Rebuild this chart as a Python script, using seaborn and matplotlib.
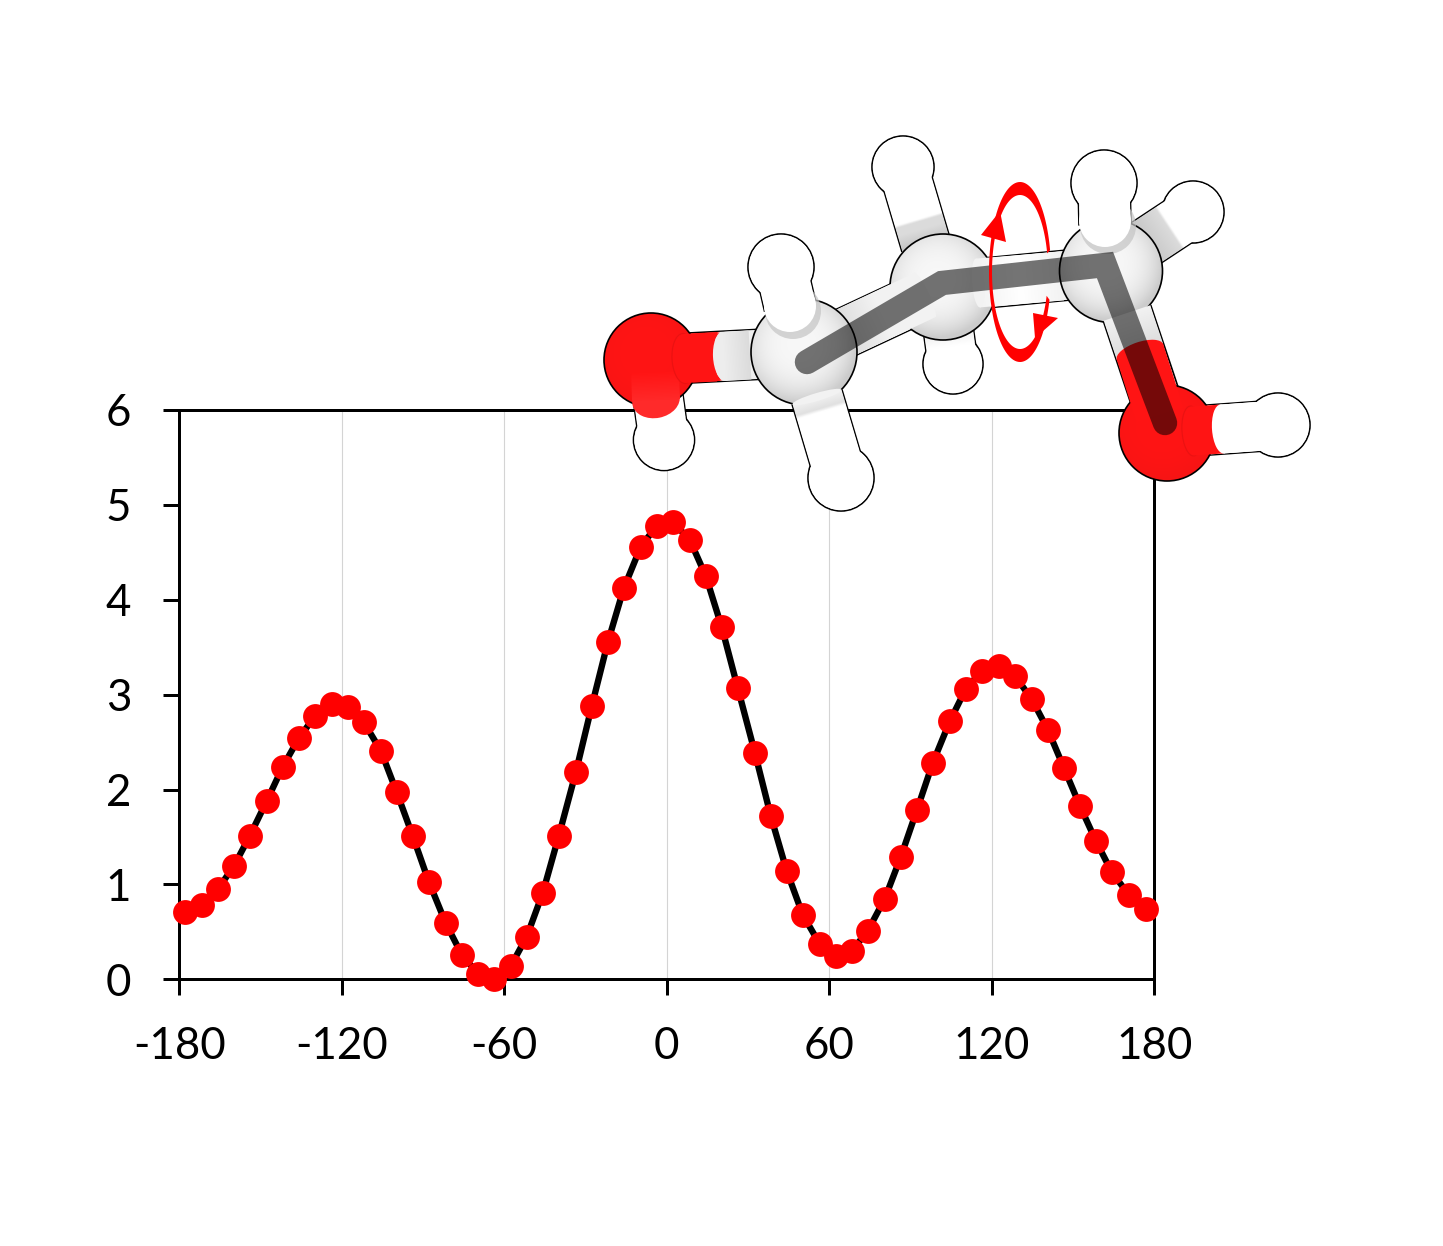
import numpy as np
import pandas as pd
import matplotlib
matplotlib.use("Agg")
import matplotlib.pyplot as plt
import seaborn as sns
from matplotlib.patches import Circle, Polygon, Ellipse

# ---- data ----
angle = [-178.0,-171.7,-165.8,-159.9,-154.0,-147.7,-141.8,-135.9,-130.0,-123.7,
         -117.8,-111.9,-105.6,-99.7,-93.8,-87.9,-81.6,-75.7,-69.8,-63.9,
         -57.6,-51.7,-45.8,-39.9,-33.6,-27.7,-21.8,-15.9,-9.6,-3.7,
         2.2,8.5,14.4,20.3,26.2,32.5,38.4,44.3,50.2,56.5,
         62.4,68.3,74.2,80.5,86.4,92.3,98.2,104.5,110.4,116.3,
         122.6,128.5,134.8,140.7,146.6,152.5,158.4,164.3,170.6,176.9]
energy = [0.71,0.78,0.95,1.19,1.51,1.88,2.24,2.54,2.77,2.90,
          2.87,2.71,2.41,1.97,1.51,1.03,0.59,0.26,0.06,0.00,
          0.14,0.45,0.91,1.51,2.18,2.88,3.55,4.12,4.56,4.78,
          4.82,4.63,4.25,3.71,3.07,2.39,1.72,1.14,0.68,0.37,
          0.25,0.30,0.51,0.85,1.29,1.78,2.28,2.72,3.06,3.25,
          3.30,3.20,2.95,2.63,2.23,1.83,1.46,1.13,0.89,0.74]
x_ticks = [-180,-120,-60,0,60,120,180]
y_ticks = [0,1,2,3,4,5,6]

W, H, DPI = 1443, 1246, 200
sns.set_theme(style="white")
plt.rcParams['font.family'] = ['Lato', 'DejaVu Sans']

fig = plt.figure(figsize=(W/DPI, H/DPI), dpi=DPI, facecolor="white")
ax = fig.add_axes([179.3/W, 1-979.3/H, (1154.3-179.3)/W, (979.3-410)/H])
df = pd.DataFrame({"angle": angle, "energy": energy})
sns.lineplot(data=df, x="angle", y="energy", color="black", lw=2.3, ax=ax, zorder=4, clip_on=False)
sns.scatterplot(data=df, x="angle", y="energy", color="#ff0000", s=80, linewidth=0, ax=ax, zorder=5, clip_on=False)
ax.set_xlim(-180, 180); ax.set_ylim(0, 6)
ax.set_xticks(x_ticks); ax.set_yticks(y_ticks)
ax.set_xticklabels([str(t) for t in x_ticks]); ax.set_yticklabels([str(t) for t in y_ticks])
ax.set_xlabel(""); ax.set_ylabel("")
ax.xaxis.grid(True, color="#d4d4d4", lw=0.4); ax.yaxis.grid(False)
ax.set_axisbelow(True)
ax.tick_params(axis="both", direction="out", length=5.6, width=1.08, color="black",
               labelsize=15.8, labelcolor="black", bottom=True, left=True)
ax.tick_params(axis="x", pad=11.2)
ax.tick_params(axis="y", pad=11.7)
for s in ax.spines.values():
    s.set_color("black"); s.set_linewidth(1.08); s.set_visible(True)

# ---- molecule illustration overlay, in pixel coordinates ----
ov = fig.add_axes([0, 0, 1, 1], facecolor="none", zorder=10)
ov.set_xlim(0, W); ov.set_ylim(H, 0); ov.axis("off")
LW = 0.6
z = [10]
def nz():
    z[0] += 1
    return z[0]

WH = (1, 1, 1); G1 = (.95, .95, .95); G2 = (.86, .86, .86); G3 = (.76, .76, .76)
RD = (1, .08, .08); RDH = "#ff1414"

def frame(a, b):
    a, b = np.array(a, float), np.array(b, float)
    d = (b - a) / np.hypot(*(b - a))
    return a, b, d, np.array([-d[1], d[0]])

def sides(a, b, w):
    a, b, d, n = frame(a, b)
    for s in (1, -1):
        p, q = a + s*n*w/2, b + s*n*w/2
        ov.plot([p[0], q[0]], [p[1], q[1]], color="black", lw=LW, zorder=nz(), solid_capstyle="butt")

def band(a, b, w, stops):
    a, b, d, n = frame(a, b)
    poly = Polygon([a+n*w/2, b+n*w/2, b-n*w/2, a-n*w/2], closed=True, fc="none", ec="none", zorder=nz())
    ov.add_patch(poly)
    xs = np.linspace(min(a[0], b[0])-w, max(a[0], b[0])+w, 200)
    ys = np.linspace(min(a[1], b[1])-w, max(a[1], b[1])+w, 200)
    X, Y = np.meshgrid(xs, ys)
    L = np.hypot(*(b-a))
    T = np.clip(((X-a[0])*(b-a)[0]+(Y-a[1])*(b-a)[1])/L**2, 0, 1)
    pos = [s[0] for s in stops]
    img = np.dstack([np.interp(T, pos, [s[1][i] for s in stops]) for i in range(3)])
    im = ov.imshow(img, extent=(xs[0], xs[-1], ys[-1], ys[0]), aspect="auto", zorder=nz(),
                   interpolation="bilinear", origin="upper")
    im.set_clip_path(poly)
    ov.set_xlim(0, W); ov.set_ylim(H, 0)

def endcap(a, b, w, thick, fc, ec="none"):
    """Ellipse across a bond at point a, giving the curved colour boundary."""
    a, b, d, n = frame(a, b)
    ang = np.degrees(np.arctan2(d[1], d[0]))
    ov.add_patch(Ellipse(a, thick, w, angle=ang, fc=fc, ec=ec, lw=.4, zorder=nz()))

def sphere(c, r, base, rim, power=3.0):
    xs = np.linspace(c[0]-r, c[0]+r, 140)
    ys = np.linspace(c[1]-r, c[1]+r, 140)
    X, Y = np.meshgrid(xs, ys)
    R = np.clip(np.hypot(X-c[0]+r*0.1, Y-c[1]+r*0.15)/(r*1.1), 0, 1)
    img = np.dstack([base[i] + (rim[i]-base[i])*R**power for i in range(3)])
    clip = Circle(c, r, fc="none", ec="none", zorder=nz()); ov.add_patch(clip)
    im = ov.imshow(img, extent=(xs[0], xs[-1], ys[-1], ys[0]), aspect="auto", zorder=nz(),
                   interpolation="bilinear", origin="upper")
    im.set_clip_path(clip)
    ov.add_patch(Circle(c, r, fc="none", ec="black", lw=LW, zorder=nz()))
    ov.set_xlim(0, W); ov.set_ylim(H, 0)

def h_ball(c, r):
    ov.add_patch(Circle(c, r, fc="white", ec="black", lw=LW, zorder=nz()))

def h_fill(c, r):
    ov.add_patch(Circle(c, r-0.8, fc="white", ec="none", zorder=nz()))

def crescent(cx, cy, a0, a1, rx_o=31, ry_o=90, rx_i=28, ry_i=77):
    th = np.radians(np.linspace(a0, a1, 60))
    o = np.c_[cx + rx_o*np.cos(th), cy - ry_o*np.sin(th)]
    i = np.c_[cx + rx_i*np.cos(th), cy - ry_i*np.sin(th)][::-1]
    ov.add_patch(Polygon(np.vstack([o, i]), closed=True, fc="#ff0000", ec="none", zorder=nz()))

C1, C2, C3 = (804, 352), (943, 287), (1111, 271)
O1, O2 = (651, 360), (1167, 433)
HO1, HO2 = (664, 440), (1278, 425)
HC1a, HC1b = (781, 267), (841, 478)
HC2a, HC2b = (903, 167), (953, 364)
HC3a, HC3b = (1104, 183), (1193, 212)

# H atoms behind the carbons
h_ball(HC2b, 30); sides((947, 320), HC2b, 50); h_fill(HC2b, 30)
band((947, 320), HC2b, 49, [(0, G3), (.35, G1), (.6, WH), (1, WH)])

a3 = (1140, 247)
h_ball(HC3b, 31); sides(a3, HC3b, 50); h_fill(HC3b, 31)
band(a3, HC3b, 49, [(0, G3), (.54, G2), (.58, WH), (1, WH)])

a2 = (926, 245)
h_ball(HC2a, 31); sides(a2, HC2a, 50); h_fill(HC2a, 31)
band(a2, HC2a, 49, [(0, G3), (.2, G2), (.3, G2), (.33, WH), (1, WH)])

# O1-H and O1-C1
h_ball(HO1, 30.5); sides((655, 375), HO1, 50); h_fill(HO1, 30.5)
band((655, 375), HO1, 49, [(0, WH), (1, WH)])
sides(O1, C1, 50)
band(O1, C1, 49, [(0, RD), (.44, RD), (.46, G1), (.6, G1), (1, G2)])
endcap((724, 356.5), C1, 49, 22, (.93, .93, .93))
sphere(O1, 47, RD, (.97, .08, .08))
endcap((656, 400), HO1, 48, 36, "#ff2a2a")
band((655, 372), (656, 400), 48, [(0, RD), (1, (1, .16, .16))])
endcap((684, 358.5), C1, 50, 24, RDH, "#ea1212")
band((684, 358.5), (716, 357), 49, [(0, RD), (1, RD)])
endcap((724, 356.5), C1, 49, 22, (.93, .93, .93))
band((724, 356.5), (750, 355), 49, [(0, (.93, .93, .93)), (1, G2)])

# carbon backbone
sides(C2, C3, 50)
sides(C1, C2, 50)
band(C2, C3, 49, [(0, G1), (1, G1)])
band(C1, C2, 49, [(0, G1), (1, G1)])
sphere(C2, 53, (.97, .97, .97), (.80, .80, .80))
band((840, 335), (925, 295), 49, [(0, G2), (.5, G1), (1, G1)])
endcap((925, 295), (840, 335), 49, 8, G1)
band((978, 283), (1062, 276), 49, [(0, G1), (.5, WH), (1, G1)])
endcap((978, 283), (1062, 276), 49, 12, G1)

# C3 and its neighbours
sides((1127, 313), O2, 50)
sides(O2, HO2, 50)
h_ball(HO2, 32)
band(O2, HO2, 49, [(0, WH), (1, WH)])
sides(HC3a, (1105, 225), 52)
h_ball(HC3a, 33)
sphere(C3, 51.5, (.97, .97, .97), (.80, .80, .80))
sphere(O2, 48, RD, (.97, .08, .08))

# C3-O2 stick on top of both spheres
band((1127, 313), (1140, 352), 49, [(0, G1), (1, G2)])
endcap((1140, 352), O2, 49, 20, RDH)
band((1140, 352), (1160, 415), 49, [(0, RD), (1, RD)])
# O2-H stick in front
endcap((1192, 431), HO2, 50, 20, RDH, "#ea1212")
band((1192, 431), (1222, 429), 49, [(0, RD), (1, RD)])
endcap((1222, 429), HO2, 49, 20, "white")
band((1222, 429), HO2, 49, [(0, WH), (1, WH)])
h_fill(HO2, 32)

# front hydrogen sticks
ov.add_patch(Circle((1108, 226), 28, fc="#c4c4c4", ec="none", alpha=.7, zorder=nz()))
band(HC3a, (1105, 221), 51, [(0, WH), (1, WH)])
ov.add_patch(Circle((1105, 221), 26, fc="white", ec="none", zorder=nz()))
h_fill(HC3a, 33)

# C1
sides((817, 397), HC1b, 52)
h_ball(HC1b, 33)
sides(HC1a, (790, 306), 52)
h_ball(HC1a, 33)
sphere(C1, 53, (.97, .97, .97), (.80, .80, .80))
band((817, 397), HC1b, 51, [(0, G1), (.14, (.88, .88, .88)), (.18, WH), (1, WH)])
endcap((817, 397), HC1b, 51, 8, G1)
h_fill(HC1b, 33)
ov.add_patch(Circle((793, 311), 28, fc="#c4c4c4", ec="none", alpha=.7, zorder=nz()))
band(HC1a, (790, 306), 51, [(0, WH), (1, WH)])
ov.add_patch(Circle((790, 306), 26, fc="white", ec="none", zorder=nz()))
h_fill(HC1a, 33)

# translucent tube along the rotated backbone
ov.plot([807, 942, 1105, 1165], [362, 283, 265, 423], color="black", alpha=.54, lw=8.8,
        solid_capstyle="round", solid_joinstyle="miter", zorder=nz())

# rotation arrow
crescent(1020, 272, 90, 14)
crescent(1020, 272, -18, -90)
ov.add_patch(Polygon([(1033, 313), (1058, 318), (1035, 338)], closed=True, fc="#ff0000", ec="none", zorder=nz()))
crescent(1020, 272, 90, 270)
ov.add_patch(Polygon([(981, 235), (1006, 242), (1000, 211)], closed=True, fc="#ff0000", ec="none", zorder=nz()))

fig.savefig("out.png", dpi=DPI, facecolor="white")
